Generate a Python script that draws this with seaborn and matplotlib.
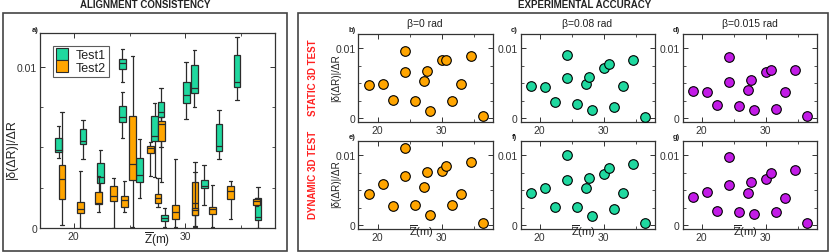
import numpy as np
import pandas as pd
import matplotlib
matplotlib.use("Agg")
import matplotlib.pyplot as plt
import seaborn as sns
from matplotlib.patches import Rectangle
from matplotlib.lines import Line2D

# ---------------- panel a: box summaries per Z (whisker low, q1, median, q3, whisker high)
test1_z = [18.66, 20.84, 22.39, 24.36, 24.36, 25.9, 27.25, 27.82, 28.13, 30.06, 30.8, 31.67, 33.0, 34.6, 36.48]
test1_lo = [0.00437, 0.00429, 0.00223, 0.00903, 0.00557, 0.00188, 0.00315, 0.0050, 0.00006, 0.00676, 0.00748, 0.00144, 0.00429, 0.00794, 0.00004]
test1_q1 = [0.00470, 0.00520, 0.00280, 0.00986, 0.00656, 0.00289, 0.00542, 0.00687, 0.00047, 0.00773, 0.00835, 0.00247, 0.00478, 0.00872, 0.00054]
test1_med = [0.00487, 0.00542, 0.00318, 0.01021, 0.00687, 0.00332, 0.00569, 0.00718, 0.00066, 0.00827, 0.00866, 0.00264, 0.00511, 0.00903, 0.00072]
test1_q3 = [0.00557, 0.00614, 0.00404, 0.01047, 0.00755, 0.00435, 0.00693, 0.00779, 0.00082, 0.00903, 0.01012, 0.00299, 0.00643, 0.01074, 0.00186]
test1_hi = [0.00635, 0.00672, 0.00485, 0.01109, 0.00841, 0.00553, 0.00775, 0.00866, 0.00124, 0.01027, 0.01105, 0.00392, 0.00734, 0.01186, 0.00258]

test2_z = [18.96, 20.6, 22.24, 23.58, 24.54, 25.28, 26.87, 27.55, 27.85, 29.1, 30.84, 30.84, 32.39, 34.03, 36.33]
test2_lo = [0.00023, 0.0, 0.00103, 0.0, 0.00103, 0.0001, 0.00326, 0.0013, 0.00285, 0.00006, 0.00006, 0.00016, 0.0001, 0.00058, 0.0014]
test2_q1 = [0.00181, 0.00093, 0.00151, 0.00171, 0.0013, 0.00301, 0.00466, 0.00157, 0.00542, 0.00058, 0.00082, 0.00082, 0.00089, 0.00181, 0.00144]
test2_med = [0.00305, 0.0012, 0.00157, 0.00202, 0.00175, 0.00398, 0.00495, 0.00186, 0.00645, 0.00099, 0.00157, 0.00113, 0.0012, 0.00233, 0.00171]
test2_q3 = [0.00392, 0.00161, 0.00227, 0.00264, 0.00202, 0.00697, 0.00511, 0.00212, 0.00662, 0.00144, 0.00289, 0.00124, 0.0013, 0.0026, 0.00181]
test2_hi = [0.00718, 0.00357, 0.00326, 0.00311, 0.00291, 0.01064, 0.00532, 0.00311, 0.0069, 0.00429, 0.00408, 0.00346, 0.00268, 0.00295, 0.00186]

# ---------------- panels b-g: |d(dR)|/dR per Z
z = [18.6, 20.82, 22.4, 24.32, 24.32, 25.88, 27.28, 27.75, 28.12, 30.02, 30.77, 31.6, 33.0, 34.6, 36.47]
static_b0 = [0.00481, 0.00495, 0.00269, 0.00953, 0.00656, 0.00255, 0.00538, 0.00679, 0.00108, 0.00835, 0.00825, 0.00245, 0.00491, 0.00887, 0.00042]
static_b008 = [0.00458, 0.00443, 0.00241, 0.00901, 0.0058, 0.00208, 0.00491, 0.0059, 0.00118, 0.00712, 0.00774, 0.0017, 0.00458, 0.00835, 0.00024]
static_b0015 = [0.00387, 0.00373, 0.00189, 0.00873, 0.00514, 0.00179, 0.0041, 0.00542, 0.00123, 0.00665, 0.00689, 0.00132, 0.00382, 0.00693, 0.00042]
dynamic_b0 = [0.00446, 0.00596, 0.00277, 0.01103, 0.0070, 0.00286, 0.00545, 0.00756, 0.0015, 0.0077, 0.0085, 0.00291, 0.00446, 0.00897, 0.00042]
dynamic_b008 = [0.0046, 0.00526, 0.00263, 0.01005, 0.00643, 0.00258, 0.00526, 0.00671, 0.00136, 0.00728, 0.00817, 0.0023, 0.00455, 0.00873, 0.00042]
dynamic_b0015 = [0.00404, 0.00479, 0.00207, 0.00977, 0.00582, 0.00192, 0.00455, 0.0062, 0.00164, 0.00657, 0.00742, 0.00188, 0.00385, 0.00784, 0.00042]
dynamic_err = [0.0001, 0.0003, 0.0001, 0.0005, 0.0002, 0.0001, 0.0002, 0.0003, 0.0001, 0.0002, 0.0002, 0.0001, 0.0002, 0.0002, 0.0001]

beta_titles = ["\u03b2=0 rad", "\u03b2=0.08 rad", "\u03b2=0.015 rad"]
row_titles = ["STATIC 3D TEST", "DYNAMIC 3D TEST"]

GREEN = "#1fd89f"
ORANGE = "#ffa500"
PURPLE = "#c21be6"
EDGE = "#2b2b2b"
ZLABEL = r"$\overline{\mathrm{Z}}$(m)"
YLABEL = "|\u03b4(\u0394R)|/\u0394R"

W, H = 830, 253

sns.set_theme(style="ticks", rc={
    "xtick.direction": "in", "ytick.direction": "in",
    "xtick.top": True, "ytick.right": True,
    "xtick.major.size": 3.5, "ytick.major.size": 3.5,
    "xtick.minor.size": 2.0, "ytick.minor.size": 2.0,
    "xtick.major.width": 0.7, "ytick.major.width": 0.7,
    "xtick.minor.width": 0.6, "ytick.minor.width": 0.6,
    "xtick.major.pad": 2.0, "ytick.major.pad": 2.0,
    "axes.linewidth": 0.9, "axes.edgecolor": "#333333",
    "xtick.color": "#333333", "ytick.color": "#333333",
    "xtick.labelsize": 7.5, "ytick.labelsize": 7.5,
    "text.color": "#222222",
})
plt.rcParams["font.family"] = ["Liberation Sans", "DejaVu Sans"]
plt.rcParams["mathtext.fontset"] = "custom"
plt.rcParams["mathtext.rm"] = "Liberation Sans"

fig = plt.figure(figsize=(W / 100, H / 100), dpi=100)


def px_axes(left, top, width, height):
    return fig.add_axes([left / W, 1 - (top + height) / H, width / W, height / H])


def fig_text(x, y, s, **kw):
    fig.text(x / W, 1 - y / H, s, ha="center", va="center", **kw)


def style_axes(ax, ylim):
    ax.set_xlim(17, 38)
    ax.set_ylim(*ylim)
    ax.set_xticks([20, 30], labels=["20", "30"])
    ax.set_xticks([25, 35], minor=True)
    ax.set_yticks([0, 0.01], labels=["0", "0.01"])
    ax.set_yticks([0.0025, 0.005, 0.0075], minor=True)
    ax.set_xlabel("")
    ax.set_ylabel("")


# frames around the two groups
for x0, x1 in [(3, 287), (297.5, 828)]:
    fig.add_artist(Rectangle((x0 / W, 1 - 251.5 / H), (x1 - x0) / W, (251.5 - 14) / H,
                             transform=fig.transFigure, fill=False,
                             edgecolor="#444444", linewidth=1.2))

fig_text(145, 5.5, "ALIGNMENT CONSISTENCY", fontsize=7, fontweight="bold")
fig_text(585, 5.5, "EXPERIMENTAL ACCURACY", fontsize=7, fontweight="bold")

# ---------------- panel a
box_rows = []
for test, zs, lo, q1, med, q3, hi in [
    ("Test1", test1_z, test1_lo, test1_q1, test1_med, test1_q3, test1_hi),
    ("Test2", test2_z, test2_lo, test2_q1, test2_med, test2_q3, test2_hi),
]:
    for i, zz in enumerate(zs):
        for v in (lo[i], q1[i], med[i], q3[i], hi[i]):
            box_rows.append({"test": test, "box": i, "Z": zz, "value": v})
boxes = pd.DataFrame(box_rows)

ax_a = px_axes(40, 34.3, 235, 195)
box_colors = {"Test1": GREEN, "Test2": ORANGE}
for (test, idx), g in boxes.groupby(["test", "box"], sort=False):
    sns.boxplot(data=g, x="Z", y="value", native_scale=True, orient="x",
                whis=(0, 100), width=0.6, color=box_colors[test], saturation=1,
                linecolor=EDGE, linewidth=0.9, ax=ax_a)
style_axes(ax_a, (0, 0.01206))
handles = [Line2D([], [], marker="s", ls="", markersize=8, markerfacecolor=box_colors[t],
                  markeredgecolor=EDGE, markeredgewidth=0.8, label=t) for t in ["Test1", "Test2"]]
ax_a.legend(handles=handles, loc="upper left", bbox_to_anchor=(0.055, 0.935),
            borderaxespad=0, frameon=True, fancybox=False, edgecolor="#333333",
            fontsize=9, handlelength=1.0, handletextpad=0.6, borderpad=0.25,
            labelspacing=0.05)
ax_a.legend_.get_frame().set_linewidth(0.8)
fig_text(157, 239.5, ZLABEL, fontsize=8.5)
fig_text(12, 149, YLABEL, fontsize=9, rotation=90)
fig_text(35, 30, "a)", fontsize=5.5, fontweight="bold")

# ---------------- panels b-g
col_left = [358.3, 520.5, 682.5]
row_top = [35, 142]
letters = [["b)", "c)", "d)"], ["e)", "f)", "g)"]]
series = [[static_b0, static_b008, static_b0015], [dynamic_b0, dynamic_b008, dynamic_b0015]]
col_colors = [ORANGE, GREEN, PURPLE]

for r in range(2):
    for c in range(3):
        ax = px_axes(col_left[c], row_top[r], 134.5, 88)
        vals = series[r][c]
        if r == 1:
            ax.errorbar(z, vals, yerr=dynamic_err, fmt="none", ecolor="#333333",
                        elinewidth=0.8, capsize=1.5, zorder=1)
        sns.scatterplot(x=z, y=vals, color=col_colors[c], edgecolor="black",
                        linewidth=0.8, s=48, zorder=3, ax=ax)
        style_axes(ax, (-0.0005, 0.012))
        fig_text(col_left[c] - 6, row_top[r] - 4, letters[r][c], fontsize=5.5, fontweight="bold")
        if r == 0:
            fig_text(col_left[c] + 67, 24, beta_titles[c], fontsize=7.5)
        else:
            fig_text(col_left[c] + 63, 232, ZLABEL, fontsize=8)

for r, (yl, yr) in enumerate([(78, 77.5), (184, 175)]):
    fig_text(336, yl, YLABEL, fontsize=7.2, rotation=90)
    fig_text(313, yr, row_titles[r], fontsize=7, fontweight="bold",
             color="#ff2020", rotation=90)

fig.savefig("out.png", dpi=100)
